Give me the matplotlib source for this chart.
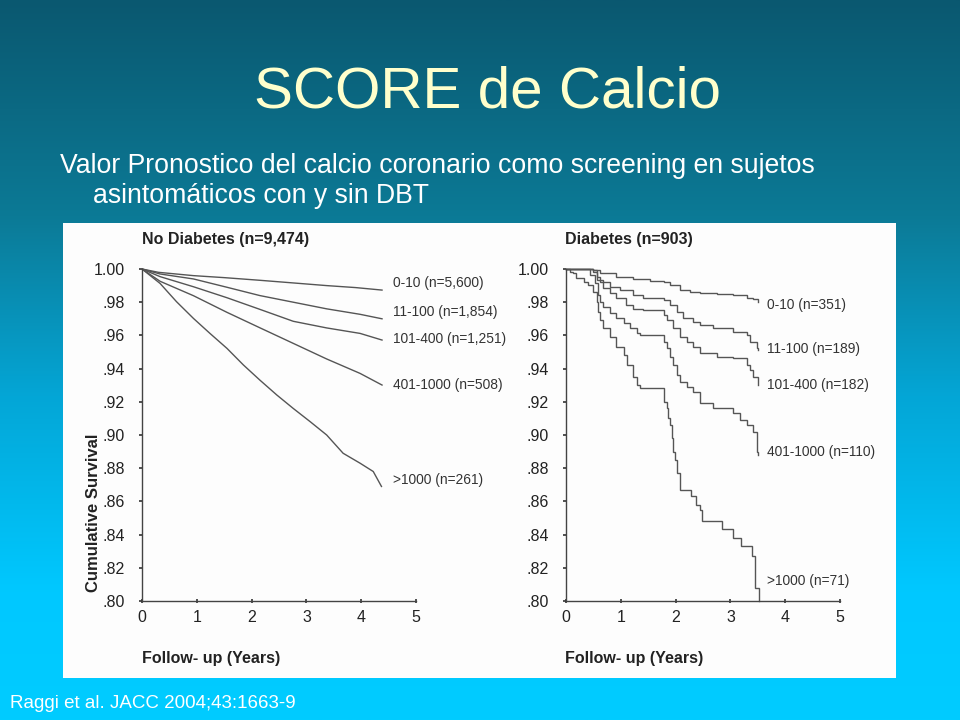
import matplotlib
matplotlib.use("Agg")
import matplotlib.pyplot as plt
import numpy as np
from matplotlib.colors import LinearSegmentedColormap
from matplotlib.patches import Rectangle

plt.rcParams["font.family"] = ["Liberation Sans", "DejaVu Sans"]

# --- No diabetes panel (n=9,474) ---
ND_LABELS = ["0-10 (n=5,600)", "11-100 (n=1,854)", "101-400 (n=1,251)", "401-1000 (n=508)", ">1000 (n=261)"]
ND_LABEL_Y = [0.9913, 0.9739, 0.9578, 0.930, 0.8727]

ND_010_T = [0, 0.3, 0.94, 1.5, 2.15, 2.8, 3.37, 3.9, 4.38]
ND_010_S = [1.0, 0.998, 0.996, 0.9948, 0.9932, 0.9915, 0.990, 0.9888, 0.9873]

ND_11100_T = [0, 0.33, 0.94, 1.55, 2.15, 2.76, 3.37, 3.98, 4.38]
ND_11100_S = [1.0, 0.997, 0.994, 0.989, 0.984, 0.980, 0.976, 0.9727, 0.970]

ND_101400_T = [0, 0.33, 0.94, 1.55, 2.15, 2.76, 3.37, 3.98, 4.38]
ND_101400_S = [1.0, 0.9954, 0.9893, 0.9827, 0.9757, 0.9685, 0.9645, 0.9612, 0.9572]

ND_4011000_T = [0, 0.33, 0.94, 1.55, 2.15, 2.76, 3.37, 3.98, 4.38]
ND_4011000_S = [1.0, 0.9926, 0.9839, 0.9739, 0.9646, 0.9552, 0.9458, 0.9371, 0.9301]

ND_GT1000_T = [0, 0.33, 0.63, 0.94, 1.24, 1.55, 1.85, 2.15, 2.46, 2.76, 3.07, 3.37, 3.67, 3.98, 4.22, 4.37]
ND_GT1000_S = [1.0, 0.9913, 0.9803, 0.9702, 0.9612, 0.9522, 0.9422, 0.9331, 0.9241, 0.916, 0.908, 0.900,
               0.889, 0.883, 0.878, 0.869]

# --- Diabetes panel (n=903), step curves ---
D_LABELS = ["0-10 (n=351)", "11-100 (n=189)", "101-400 (n=182)", "401-1000 (n=110)", ">1000 (n=71)"]
D_LABEL_Y = [0.9785, 0.952, 0.930, 0.890, 0.8118]

D_010_T = [0, 0.50, 0.62, 0.92, 1.23, 1.53, 1.78, 1.90, 2.08, 2.26, 2.45, 2.75, 3.05, 3.30, 3.42, 3.51]
D_010_S = [1.0, 0.9994, 0.9974, 0.9954, 0.994, 0.9928, 0.9923, 0.9903, 0.9873, 0.9863, 0.9853, 0.9847,
           0.9843, 0.9827, 0.9817, 0.9803]

D_11100_T = [0, 0.50, 0.56, 0.62, 0.80, 0.98, 1.23, 1.41, 1.65, 1.78, 1.90, 2.02, 2.14, 2.32, 2.45, 2.69,
             3.05, 3.30, 3.36, 3.48, 3.51]
D_11100_S = [1.0, 0.9994, 0.9954, 0.9923, 0.9893, 0.9873, 0.9843, 0.9827, 0.9823, 0.9813, 0.9783, 0.9743,
             0.9703, 0.9683, 0.9663, 0.9643, 0.9622, 0.9602, 0.9562, 0.9522, 0.9512]

D_101400_T = [0, 0.50, 0.56, 0.68, 0.80, 0.92, 1.10, 1.23, 1.41, 1.78, 1.84, 1.96, 2.08, 2.20, 2.32, 2.45,
              2.75, 3.05, 3.30, 3.36, 3.42, 3.51]
D_101400_S = [1.0, 0.9984, 0.9934, 0.9883, 0.9853, 0.9823, 0.9783, 0.9759, 0.9753, 0.9723, 0.9693, 0.9643,
              0.9592, 0.9562, 0.9532, 0.9492, 0.9472, 0.9462, 0.9422, 0.9392, 0.9352, 0.9301]

D_4011000_T = [0, 0.44, 0.53, 0.59, 0.62, 0.68, 0.80, 0.92, 1.05, 1.17, 1.29, 1.35, 1.78, 1.84, 1.90, 1.96,
               2.02, 2.08, 2.20, 2.32, 2.45, 2.69, 3.05, 3.18, 3.30, 3.42, 3.48, 3.51]
D_4011000_S = [1.0, 0.9964, 0.9913, 0.9843, 0.9803, 0.9773, 0.9733, 0.9703, 0.9672, 0.9643, 0.9612, 0.9602,
               0.9562, 0.9522, 0.9472, 0.9422, 0.9361, 0.9321, 0.9291, 0.9261, 0.9191, 0.9161, 0.9131, 0.9090,
               0.9060, 0.9020, 0.8900, 0.8880]

D_GT1000_T = [0, 0.07, 0.13, 0.19, 0.32, 0.41, 0.50, 0.56, 0.59, 0.62, 0.68, 0.80, 0.92, 1.05, 1.11, 1.23,
              1.29, 1.35, 1.78, 1.84, 1.87, 1.90, 1.93, 1.96, 1.99, 2.02, 2.08, 2.29, 2.38, 2.45, 2.48, 2.84,
              3.05, 3.20, 3.39, 3.45, 3.53]
D_GT1000_S = [1.0, 0.998, 0.9974, 0.9943, 0.9923, 0.9903, 0.9863, 0.9803, 0.9743, 0.9693, 0.9643, 0.9592,
              0.9532, 0.9482, 0.9422, 0.9351, 0.9301, 0.9281, 0.9201, 0.9161, 0.9100, 0.9060, 0.898, 0.890,
              0.8851, 0.8771, 0.8670, 0.863, 0.858, 0.855, 0.848, 0.8434, 0.838, 0.8329, 0.8269, 0.8078, 0.80]

Y_TICKS = [0.80, 0.82, 0.84, 0.86, 0.88, 0.90, 0.92, 0.94, 0.96, 0.98, 1.00]
Y_TICK_LABELS = [".80", ".82", ".84", ".86", ".88", ".90", ".92", ".94", ".96", ".98", "1.00"]
X_TICKS = [0, 1, 2, 3, 4, 5]

LINE_COLOR = "#555555"
INK = "#222222"
W, H = 960, 720


def px_box(x0, y0, x1, y1):
    # pixel box (top-left origin) -> figure fraction rect
    return [x0 / W, 1 - y1 / H, (x1 - x0) / W, (y1 - y0) / H]


def style_axes(ax):
    ax.set_xlim(0, 5)
    ax.set_ylim(0.80, 1.00)
    ax.patch.set_alpha(0)
    for side in ["top", "right"]:
        ax.spines[side].set_visible(False)
    for side in ["left", "bottom"]:
        ax.spines[side].set_color("#444444")
        ax.spines[side].set_linewidth(1.0)
    ax.set_yticks(Y_TICKS)
    ax.set_yticklabels(Y_TICK_LABELS)
    ax.set_xticks(X_TICKS)
    ax.tick_params(axis="y", direction="out", length=2.5, width=1.2, pad=10, labelsize=11.5,
                   colors="#333333", labelcolor=INK)
    ax.tick_params(axis="x", direction="inout", length=3, width=1.2, pad=5, labelsize=11.5,
                   colors="#333333", labelcolor=INK)


def draw_panel(ax, series, labels, label_y, label_x, step):
    for (t, s), lab, ly in zip(series, labels, label_y):
        ax.plot(t, s, color=LINE_COLOR, lw=1.0, drawstyle="steps-post" if step else "default",
                clip_on=False, solid_joinstyle="miter")
        ax.text(label_x, ly, lab, fontsize=9.9, color="#333333", va="center", ha="left")


def main() -> None:
    fig = plt.figure(figsize=(9.6, 7.2), dpi=100)

    # slide background: vertical gradient teal -> cyan, with the white scan panel on it
    bg = fig.add_axes([0, 0, 1, 1], zorder=0)
    cmap = LinearSegmentedColormap.from_list(
        "slide", [(0.0, "#0a5870"), (0.3, "#0c7a96"), (0.55, "#04a6d6"), (0.82, "#00c8ff"), (1.0, "#00ccff")])
    grad = np.linspace(0, 1, 256).reshape(-1, 1)
    bg.imshow(grad, aspect="auto", cmap=cmap, extent=[0, 1, 0, 1], origin="upper")
    bg.add_patch(Rectangle((63 / W, 1 - 678 / H), (896 - 63) / W, (678 - 223) / H,
                           facecolor="#fdfdfd", edgecolor="none"))
    bg.set_xlim(0, 1)
    bg.set_ylim(0, 1)
    bg.set_axis_off()

    fig.text(488 / W, 1 - 92 / H, "SCORE de Calcio", fontsize=42, color="#ffffcc", ha="center", va="center")
    fig.text(60 / W, 1 - 166 / H, "Valor Pronostico del calcio coronario como screening en sujetos",
             fontsize=19.2, color="white", ha="left", va="center")
    fig.text(93 / W, 1 - 196 / H, "asintomáticos con y sin DBT", fontsize=19.2, color="white",
             ha="left", va="center")
    fig.text(10 / W, 1 - 703 / H, "Raggi et al. JACC 2004;43:1663-9", fontsize=13.5, color="white",
             ha="left", va="center")

    ax_nd = fig.add_axes(px_box(142, 269, 416, 601), zorder=2)
    ax_d = fig.add_axes(px_box(566, 269, 840, 601), zorder=2)
    for ax in (ax_nd, ax_d):
        style_axes(ax)

    nd_series = [(ND_010_T, ND_010_S), (ND_11100_T, ND_11100_S), (ND_101400_T, ND_101400_S),
                 (ND_4011000_T, ND_4011000_S), (ND_GT1000_T, ND_GT1000_S)]
    d_series = [(D_010_T, D_010_S), (D_11100_T, D_11100_S), (D_101400_T, D_101400_S),
                (D_4011000_T, D_4011000_S), (D_GT1000_T, D_GT1000_S)]
    draw_panel(ax_nd, nd_series, ND_LABELS, ND_LABEL_Y, 4.58, step=False)
    draw_panel(ax_d, d_series, D_LABELS, D_LABEL_Y, 3.66, step=True)

    fig.text(142 / W, 1 - 240 / H, "No Diabetes (n=9,474)", fontsize=11.5, fontweight="bold", color=INK,
             ha="left", va="center")
    fig.text(565 / W, 1 - 240 / H, "Diabetes (n=903)", fontsize=11.5, fontweight="bold", color=INK,
             ha="left", va="center")
    fig.text(142 / W, 1 - 658 / H, "Follow- up (Years)", fontsize=11.5, fontweight="bold", color=INK,
             ha="left", va="center")
    fig.text(565 / W, 1 - 658 / H, "Follow- up (Years)", fontsize=11.5, fontweight="bold", color=INK,
             ha="left", va="center")
    fig.text(93 / W, 1 - 513 / H, "Cumulative Survival", fontsize=12, fontweight="bold", color=INK,
             ha="center", va="center", rotation=90)

    fig.savefig("out.png", dpi=100)
    plt.close(fig)


if __name__ == "__main__":
    main()
